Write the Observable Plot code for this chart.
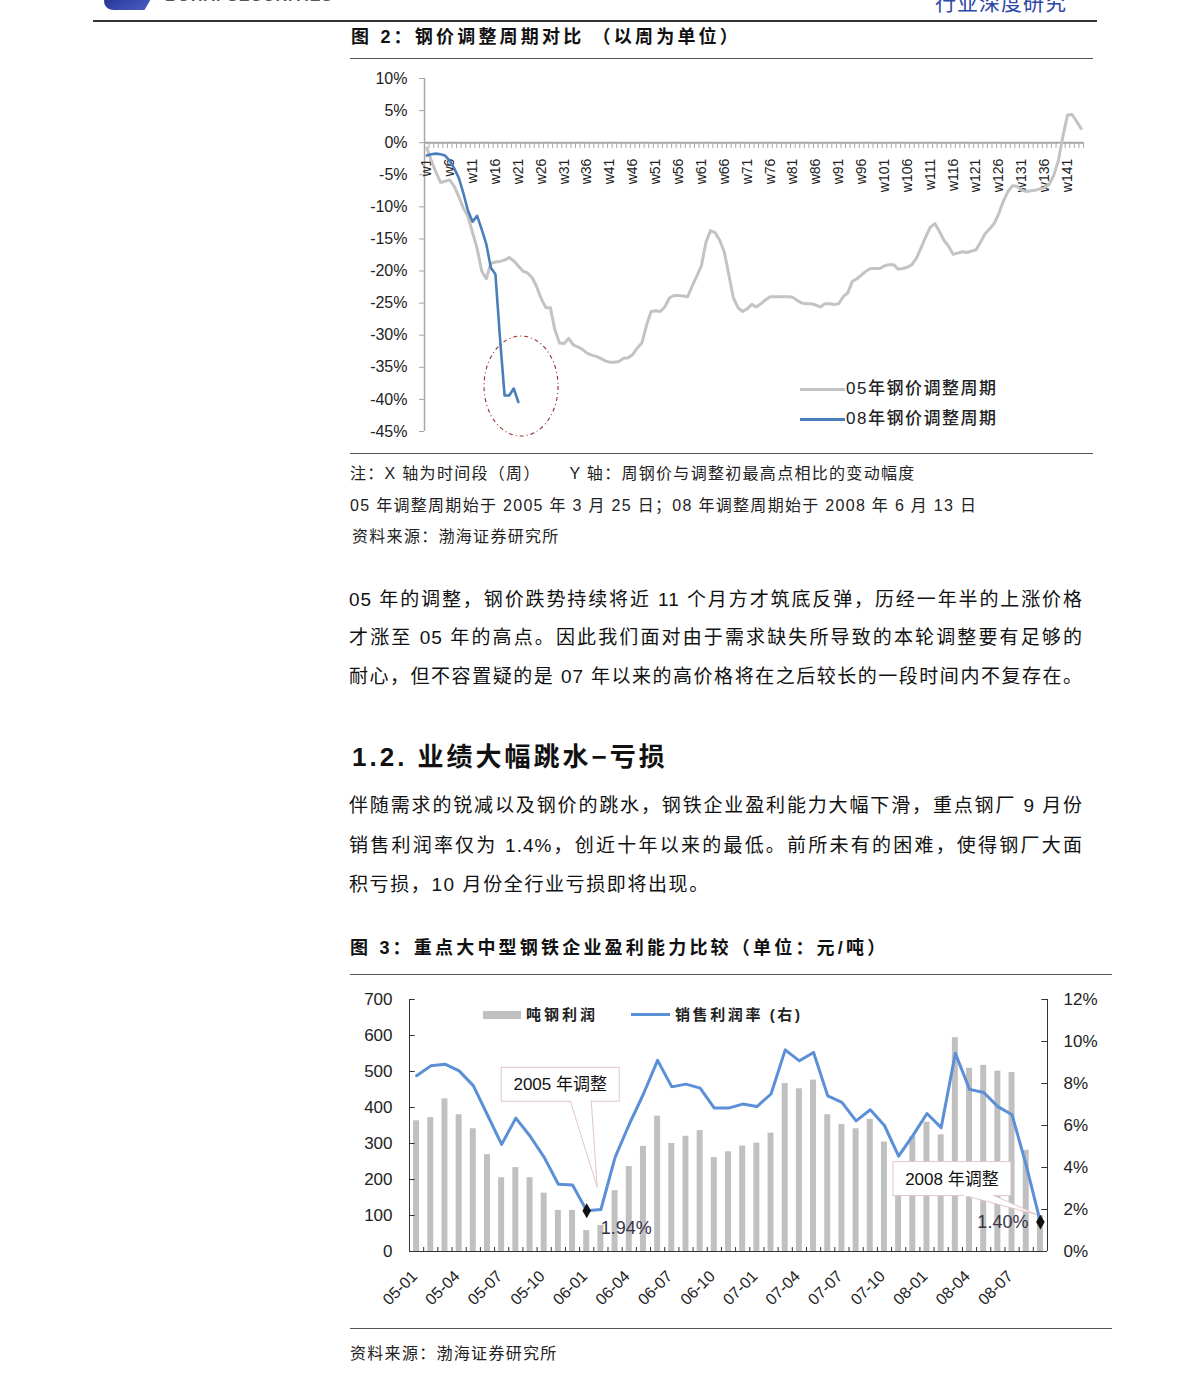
<!DOCTYPE html>
<html><head><meta charset="utf-8">
<script src="https://cdn.jsdelivr.net/npm/d3@7"></script>
<script src="https://cdn.jsdelivr.net/npm/@observablehq/plot@0.6"></script>
<style>
body{margin:0;background:#fff;}
#page{position:relative;width:1191px;height:1385px;overflow:hidden;font-family:"Liberation Sans","Noto Sans CJK SC",sans-serif;color:#111;background:#fff;}
.t{position:absolute;white-space:nowrap;}
.hr{position:absolute;height:1px;background:#555;}
.cap{font-size:18px;line-height:24px;letter-spacing:3.2px;font-weight:600;color:#111;}
.note{font-size:16px;line-height:22px;letter-spacing:1.3px;color:#222;}
.para{position:absolute;left:349px;width:734px;font-size:19px;line-height:26px;letter-spacing:1px;text-align:justify;text-align-last:justify;white-space:nowrap;color:#111;}
.leg{position:absolute;font-size:17px;font-weight:500;line-height:20px;white-space:nowrap;color:#222;letter-spacing:1.5px;}
</style></head>
<body><div id="page">
  <div class="t" style="left:104px;top:-16px;width:48px;height:26px;background:linear-gradient(135deg,#1c2a8c,#4a5cc0);transform:skewX(-30deg);border-radius:0 0 0 18px;"></div>
  <div class="t" style="left:165px;top:-13px;font-size:16px;font-weight:700;letter-spacing:1px;color:#555;">BOHAI SECURITIES</div>
  <div class="t" style="left:935px;top:-10px;font-size:21px;line-height:26px;letter-spacing:1px;color:#2e48a8;">行业深度研究</div>
  <div class="hr" style="left:93px;top:20px;width:1004px;height:2px;background:#333;"></div>

  <div class="t cap" style="left:351px;top:25px;">图 2：钢价调整周期对比 （以周为单位）</div>
  <div class="hr" style="left:350px;top:58px;width:743px;"></div>
  <div id="chart1" class="t" style="left:350px;top:60px;"></div>
  <div class="hr" style="left:350px;top:453px;width:743px;"></div>
  <div class="t" style="left:800px;top:388px;width:45px;height:3px;background:#c3c3c3;"></div>
  <div class="leg" style="left:846px;top:379px;">05年钢价调整周期</div>
  <div class="t" style="left:800px;top:418px;width:45px;height:3px;background:#4a7ebb;"></div>
  <div class="leg" style="left:846px;top:409px;">08年钢价调整周期</div>

  <div class="t note" style="left:350px;top:463px;">注：X 轴为时间段（周）&nbsp;&nbsp;&nbsp;&nbsp;&nbsp;Y 轴：周钢价与调整初最高点相比的变动幅度</div>
  <div class="t note" style="left:350px;top:495px;">05 年调整周期始于 2005 年 3 月 25 日；08 年调整周期始于 2008 年 6 月 13 日</div>
  <div class="t note" style="left:352px;top:526px;">资料来源：渤海证券研究所</div>

  <div class="para" style="top:587px;">05 年的调整，钢价跌势持续将近 11 个月方才筑底反弹，历经一年半的上涨价格</div>
  <div class="para" style="top:625px;">才涨至 05 年的高点。因此我们面对由于需求缺失所导致的本轮调整要有足够的</div>
  <div class="para" style="top:664px;">耐心，但不容置疑的是 07 年以来的高价格将在之后较长的一段时间内不复存在。</div>

  <div class="t" style="left:352px;top:740px;font-size:26px;line-height:34px;font-weight:700;letter-spacing:3px;color:#111;">1.2. 业绩大幅跳水−亏损</div>

  <div class="para" style="top:793px;">伴随需求的锐减以及钢价的跳水，钢铁企业盈利能力大幅下滑，重点钢厂 9 月份</div>
  <div class="para" style="top:833px;">销售利润率仅为 1.4%，创近十年以来的最低。前所未有的困难，使得钢厂大面</div>
  <div class="para" style="top:872px;text-align-last:left;width:auto;letter-spacing:1.6px;">积亏损，10 月份全行业亏损即将出现。</div>

  <div class="t cap" style="left:350px;top:936px;">图 3：重点大中型钢铁企业盈利能力比较（单位：元/吨）</div>
  <div class="hr" style="left:350px;top:974px;width:762px;"></div>
  <div id="chart2" class="t" style="left:350px;top:980px;"></div>
  <div class="t" style="left:483px;top:1011px;width:38px;height:8px;background:#c0c0c0;"></div>
  <div class="leg" style="left:526px;top:1005px;font-size:15px;letter-spacing:3px;font-weight:700;">吨钢利润</div>
  <div class="t" style="left:631px;top:1013px;width:39px;height:3px;background:#5b8fd6;"></div>
  <div class="leg" style="left:675px;top:1005px;font-size:15px;letter-spacing:2.6px;font-weight:700;">销售利润率 (右)</div>
  <div class="hr" style="left:350px;top:1328px;width:762px;"></div>
  <div class="t note" style="left:350px;top:1343px;">资料来源：渤海证券研究所</div>
</div>
<script>
// ---------- Chart 1 data ----------
const weeks = d3.range(1, 145).map(i => "w" + i);
const weekTickLabels = ["w1","w6","w11","w16","w21","w26","w31","w36","w41","w46","w51","w56","w61","w66","w71","w76","w81","w86","w91","w96","w101","w106","w111","w116","w121","w126","w131","w136","w141"];
const yTicks1 = [10, 5, 0, -5, -10, -15, -20, -25, -30, -35, -40, -45];
const steel05 = [
  -0.8, -2.8, -4.6, -6.2, -6.0, -5.8, -6.8, -8.4, -10.2, -11.5,
  -14.0, -16.5, -20.0, -21.2, -18.8, -18.6, -18.5, -18.3, -17.9, -18.4,
  -19.2, -20.0, -20.3, -21.0, -22.4, -24.3, -25.7, -25.7, -29.2, -31.2,
  -31.3, -30.5, -31.5, -31.8, -32.2, -32.8, -33.1, -33.3, -33.6, -34.0,
  -34.2, -34.2, -34.1, -33.6, -33.5, -33.0, -32.0, -31.2, -28.5, -26.3,
  -26.2, -26.3, -25.6, -24.2, -23.8, -23.8, -23.9, -24.0, -22.3, -20.8,
  -19.2, -15.5, -13.7, -14.0, -15.2, -17.0, -20.6, -24.2, -25.7, -26.3,
  -25.9, -25.2, -25.6, -25.1, -24.5, -24.0, -24.0, -24.0, -24.0, -24.0,
  -24.1, -24.6, -25.0, -25.1, -25.1, -25.3, -25.6, -25.1, -25.1, -25.2,
  -25.1, -24.0, -23.4, -21.6, -21.2, -20.6, -20.0, -19.6, -19.6, -19.6,
  -19.2, -19.0, -19.0, -19.7, -19.6, -19.4, -19.0, -18.0, -16.4, -14.7,
  -13.2, -12.6, -13.8, -15.2, -16.1, -17.4, -17.2, -17.0, -17.1, -16.9,
  -16.7, -15.5, -14.2, -13.4, -12.6, -11.0, -9.1, -7.6, -6.7, -6.8,
  -7.4, -7.6, -7.5, -7.4, -7.2, -7.0, -6.5, -5.1, -2.8, 1.0,
  4.3, 4.4, 3.3, 2.2
];
const steel08 = [-2.0, -1.8, -1.7, -1.8, -2.0, -2.8, -4.0, -5.5, -7.9, -10.6, -12.3, -11.4, -13.5, -15.8, -19.5, -20.5, -30.5, -39.4, -39.4, -38.3, -40.4];
const circledWeeks = ["w18", "w21"];

// ---------- Chart 2 data ----------
const months = ["05-01","05-02","05-03","05-04","05-05","05-06","05-07","05-08","05-09","05-10","05-11","05-12",
  "06-01","06-02","06-03","06-04","06-05","06-06","06-07","06-08","06-09","06-10","06-11","06-12",
  "07-01","07-02","07-03","07-04","07-05","07-06","07-07","07-08","07-09","07-10","07-11","07-12",
  "08-01","08-02","08-03","08-04","08-05","08-06","08-07","08-08","08-09"];
const monthTickLabels = ["05-01","05-04","05-07","05-10","06-01","06-04","06-07","06-10","07-01","07-04","07-07","07-10","08-01","08-04","08-07"];
const profitPerTon = [363, 372, 424, 380, 341, 269, 205, 233, 205, 162, 114, 114,
  58, 72, 169, 236, 292, 376, 300, 320, 336, 261, 277, 293,
  301, 329, 467, 452, 476, 380, 353, 341, 367, 304, 230, 319,
  359, 324, 594, 509, 517, 501, 497, 281, 100];
const marginPct = [8.37, 8.84, 8.92, 8.6, 7.9, 6.5, 5.1, 6.35, 5.5, 4.48, 3.2, 3.17,
  1.94, 2.0, 4.48, 6.06, 7.5, 9.1, 7.84, 7.97, 7.78, 6.83, 6.83, 7.02,
  6.9, 7.5, 9.6, 9.08, 9.48, 7.41, 7.1, 6.22, 6.75, 6.0, 4.54, 5.52,
  6.57, 5.9, 9.44, 7.72, 7.57, 6.9, 6.51, 4.1, 1.40];
const leftTicks = [0, 100, 200, 300, 400, 500, 600, 700];
const rightTicks = [0, 2, 4, 6, 8, 10, 12];
const calloutMonths = ["06-01", "08-09"];
const calloutLabels = ["2005 年调整", "2008 年调整"];

const FONT = "Liberation Sans, Noto Sans CJK SC, sans-serif";
const axisGray = "#a6a6a6";

// ---------- Chart 1 ----------
const wIdx = w => weeks.indexOf(w) + 1;
const ellipseMark = (index, scales) => {
  const a = wIdx(circledWeeks[0]), b = wIdx(circledWeeks[1]);
  const vals = steel08.slice(a - 1, b);
  const cx = scales.x((a + b) / 2 + 2.2);
  const cy = scales.y((d3.min(vals) + d3.max(vals)) / 2 + 1.35);
  const g = d3.create("svg:g");
  g.append("ellipse").attr("cx", cx).attr("cy", cy).attr("rx", 37).attr("ry", 50)
    .attr("fill", "none").attr("stroke", "#9b2d2d").attr("stroke-width", 1.1)
    .attr("stroke-dasharray", "4,3,1,3");
  return g.node();
};

const chart1 = Plot.plot({
  width: 745, height: 390,
  marginLeft: 74, marginRight: 12, marginTop: 18, marginBottom: 19,
  x: {type: "linear", domain: [0.5, weeks.length + 0.5], axis: null},
  y: {domain: [-45, 10], label: null},
  style: {fontFamily: FONT, fontSize: "15px", color: "#222", background: "transparent", overflow: "visible"},
  marks: [
    Plot.ruleX([0.5], {y1: -45, y2: 10, stroke: axisGray, strokeWidth: 1.5}),
    Plot.axisY({ticks: yTicks1, tickFormat: d => d + "%", tickSize: 5, tickPadding: 12, stroke: axisGray, fill: "#222", fontSize: 16, label: null}),
    Plot.ruleX(d3.range(weeks.length + 1), {x: d => d + 0.5, y1: 0, y2: -0.9, stroke: axisGray}),
    Plot.ruleY([0], {x1: 0.5, x2: weeks.length + 0.5, stroke: axisGray, strokeWidth: 2}),
    Plot.text(weekTickLabels, {x: d => wIdx(d), y: 0, text: d => d, rotate: -90, textAnchor: "end", dy: 16, fontSize: 14, fill: "#222"}),
    Plot.line(steel05, {x: (d, i) => i + 1, y: d => d, stroke: "#c3c3c3", strokeWidth: 3}),
    Plot.line(steel08, {x: (d, i) => i + 1, y: d => d, stroke: "#4a7ebb", strokeWidth: 2.6}),
    ellipseMark
  ]
});
document.getElementById("chart1").appendChild(chart1);

// ---------- Chart 2 ----------
const mIdx = m => months.indexOf(m) + 1;
const toLeft = p => p * 700 / 12;
const rows = months.map((m, i) => ({i: i + 1, month: m, profit: profitPerTon[i], pct: marginPct[i]}));
const markers = calloutMonths.map((m, k) => ({i: mIdx(m), pct: marginPct[mIdx(m) - 1], label: calloutLabels[k]}));

const calloutLayouts = [
  {bx: -85, by: -143, p1: -16, p2: 5, tip: [11, -23]},
  {bx: -147, by: -60, p1: -77, p2: -47, tip: [-3, -7]}
];
const calloutMark = (index, scales) => {
  const g = d3.create("svg:g");
  markers.forEach((m, k) => {
    const L = calloutLayouts[k];
    const px = scales.x(m.i), py = scales.y(toLeft(m.pct));
    const bw = 118, bh = 34;
    const x0 = px + L.bx, y0 = py + L.by;
    g.append("rect").attr("x", x0).attr("y", y0).attr("width", bw).attr("height", bh)
      .attr("fill", "#fff").attr("stroke", "#e3c6c6").attr("stroke-width", 1);
    g.append("path")
      .attr("d", `M${px + L.p1},${y0 + bh - 0.5}L${px + L.tip[0]},${py + L.tip[1]}L${px + L.p2},${y0 + bh - 0.5}`)
      .attr("fill", "#fff").attr("stroke", "#e3c6c6").attr("stroke-width", 1);
    g.append("rect").attr("x", px + L.p1 + 1).attr("y", y0 + bh - 1.5).attr("width", L.p2 - L.p1 - 2).attr("height", 2).attr("fill", "#fff");
    g.append("text").attr("x", x0 + bw / 2).attr("y", y0 + bh / 2).attr("dy", "0.35em")
      .attr("text-anchor", "middle").attr("font-size", 17).attr("fill", "#111").text(m.label);
  });
  return g.node();
};

const chart2 = Plot.plot({
  width: 762, height: 340,
  marginLeft: 59, marginRight: 65, marginTop: 19, marginBottom: 69,
  x: {type: "linear", domain: [0.5, months.length + 0.5], axis: null},
  y: {domain: [0, 700], label: null},
  style: {fontFamily: FONT, fontSize: "16px", color: "#222", background: "transparent", overflow: "visible"},
  marks: [
    Plot.rect(rows, {x1: d => d.i - 0.5, x2: d => d.i + 0.5, y1: 0, y2: "profit", insetLeft: 4.1, insetRight: 4.1, fill: "#c0c0c0"}),
    Plot.ruleX([0.5, months.length + 0.5], {y1: 0, y2: 700, stroke: "#333"}),
    Plot.ruleY([0], {x1: 0.5, x2: months.length + 0.5, stroke: "#333"}),
    Plot.ruleX(d3.range(months.length + 1), {x: d => d + 0.5, y1: 0, y2: 11, stroke: "#333"}),
    Plot.ruleY(leftTicks, {x1: 0.5, x2: 0.9, stroke: "#333"}),
    Plot.ruleY(rightTicks.map(toLeft), {x1: months.length + 0.1, x2: months.length + 0.5, stroke: "#333"}),
    Plot.axisY({anchor: "left", ticks: leftTicks, tickSize: 0, tickPadding: 17, fontSize: 17, fill: "#222", label: null}),
    Plot.axisY({anchor: "right", ticks: rightTicks.map(toLeft), tickFormat: d => Math.round(d * 12 / 700) + "%", tickSize: 0, tickPadding: 16, fontSize: 17, fill: "#222", label: null}),
    Plot.text(monthTickLabels, {x: d => mIdx(d), y: 0, text: d => d, rotate: -45, textAnchor: "end", dy: 22, dx: -2, fontSize: 16, fill: "#222"}),
    Plot.line(rows, {x: "i", y: d => toLeft(d.pct), stroke: "#5b8fd6", strokeWidth: 3}),
    calloutMark,
    Plot.dot(markers, {x: "i", y: d => toLeft(d.pct), symbol: "diamond", r: 4.5, fill: "#111"}),
    Plot.text(markers.slice(0, 1), {x: "i", y: d => toLeft(d.pct), text: d => d.pct.toFixed(2) + "%", textAnchor: "start", dx: 14, dy: 17, fontSize: 18, fill: "#3a3348"}),
    Plot.text(markers.slice(1), {x: "i", y: d => toLeft(d.pct), text: d => d.pct.toFixed(2) + "%", textAnchor: "end", dx: -12, dy: 0, fontSize: 18, fill: "#3a3348"})
  ]
});
document.getElementById("chart2").appendChild(chart2);
</script>
</body></html>
